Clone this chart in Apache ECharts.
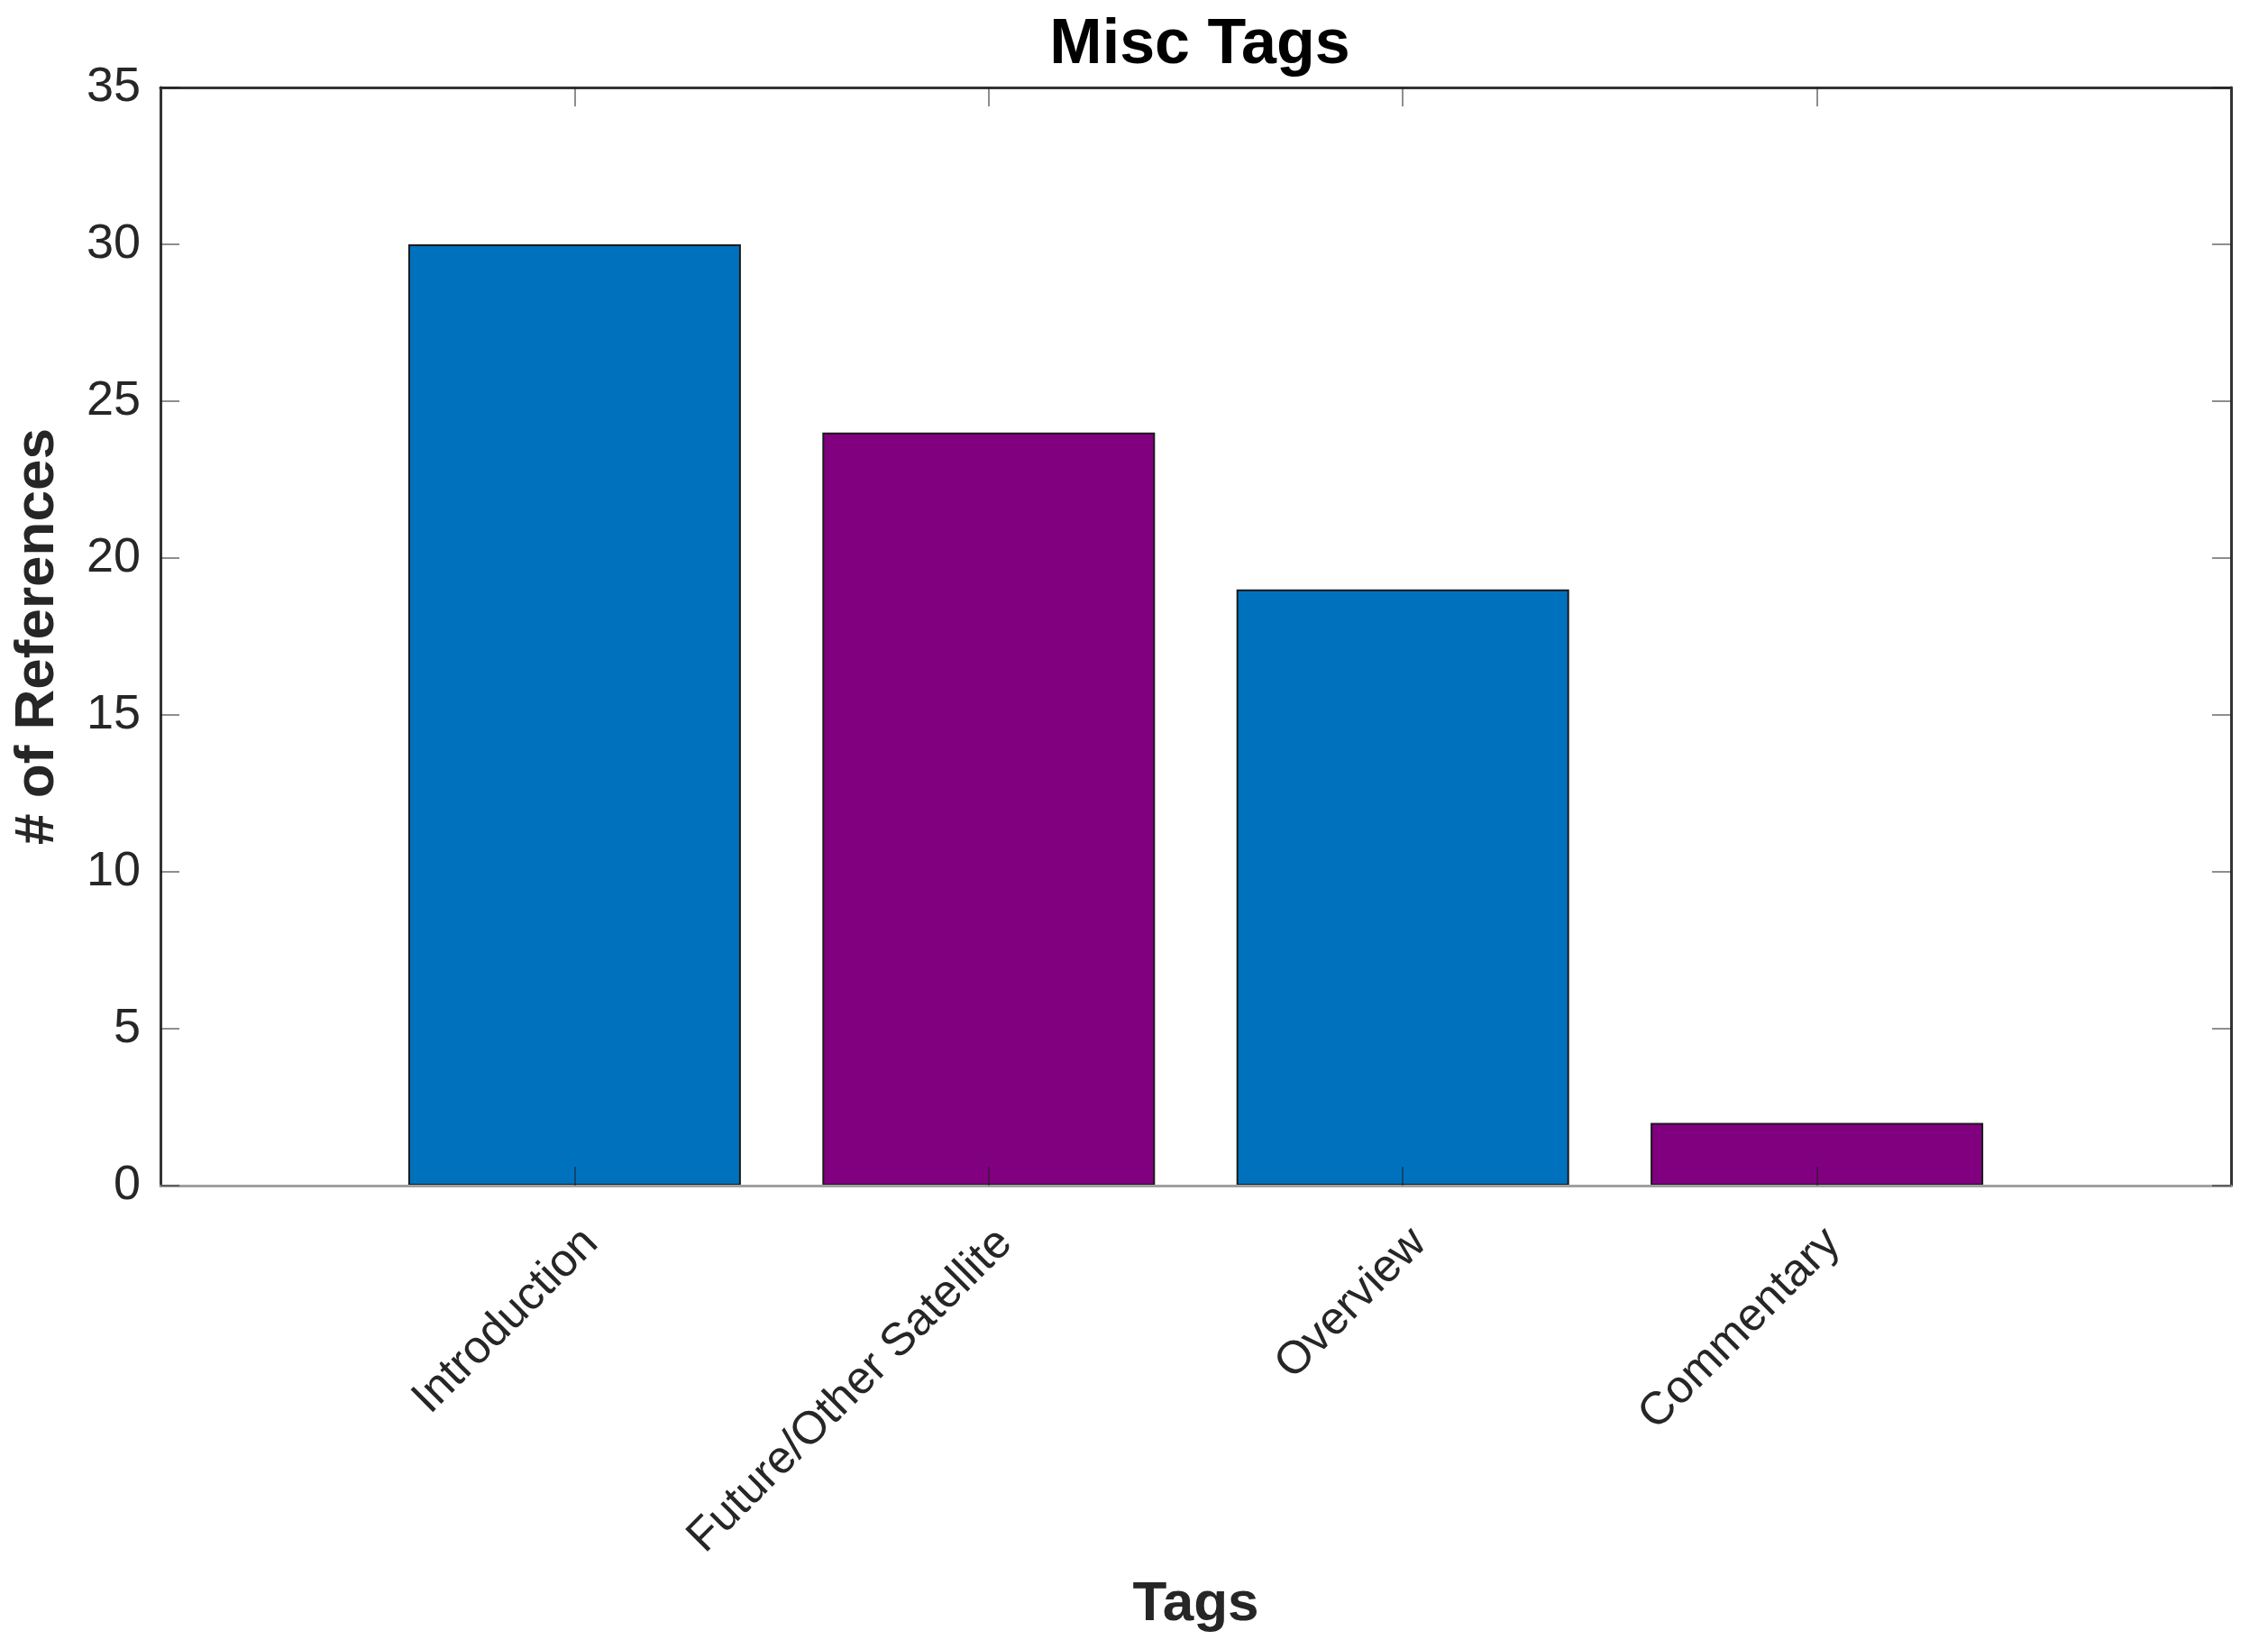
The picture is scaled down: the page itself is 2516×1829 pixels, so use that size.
<!DOCTYPE html>
<html>
<head>
<meta charset="utf-8">
<script src="https://cdn.jsdelivr.net/npm/echarts@6/dist/echarts.min.js"></script>
<style>
html,body{margin:0;padding:0;background:#fff;}
#chart{width:2516px;height:1829px;}
</style>
</head>
<body>
<div id="chart"></div>
<script>
const categories = ['Introduction', 'Future/Other Satellite', 'Overview', 'Commentary'];
const counts = [30, 24, 19, 2];
const barColors = ['#0072BD', '#800080', '#0072BD', '#800080'];
const yTicks = [0, 5, 10, 15, 20, 25, 30, 35];

const positions = categories.map((c, i) => i + 1);
const FONT = '"Liberation Sans", Arial, Helvetica, sans-serif';

const chart = echarts.init(document.getElementById('chart'), null, {renderer: 'canvas'});

const tickStyle = {color: 'rgba(30,30,30,0.5)', width: 2};

chart.setOption({
  backgroundColor: '#ffffff',
  animation: false,
  title: {
    text: 'Misc Tags',
    left: 1326,
    textAlign: 'center',
    top: 11,
    textStyle: {fontFamily: FONT, fontSize: 70, fontWeight: 'bold', color: '#000'}
  },
  grid: {left: 178, right: 41, top: 97, bottom: 514, containLabel: false},
  xAxis: [
    {
      type: 'value', position: 'bottom', min: 0, max: 5, interval: 1, z: 10,
      name: 'Tags', nameLocation: 'middle', nameGap: 434,
      nameTextStyle: {fontFamily: FONT, fontSize: 62, fontWeight: 'bold', color: '#262626'},
      axisLine: {show: true, onZero: false, lineStyle: {color: '#a0a0a0', width: 3}},
      axisTick: {show: true, inside: true, length: 21, customValues: positions, lineStyle: tickStyle},
      axisLabel: {
        show: true, rotate: 45, margin: 38, verticalAlign: 'top',
        customValues: positions,
        fontFamily: FONT, fontSize: 51, color: '#262626',
        formatter: v => categories[Math.round(v) - 1] || ''
      },
      splitLine: {show: false}
    },
    {
      type: 'value', position: 'top', min: 0, max: 5, interval: 1, z: 10,
      axisLine: {show: true, onZero: false, lineStyle: {color: '#333', width: 3}},
      axisTick: {show: true, inside: true, length: 21, customValues: positions, lineStyle: tickStyle},
      axisLabel: {show: false},
      splitLine: {show: false}
    }
  ],
  yAxis: [
    {
      type: 'value', position: 'left', min: 0, max: 35, interval: 5, z: 10,
      name: '# of References', nameLocation: 'middle', nameGap: 105,
      nameTextStyle: {fontFamily: FONT, fontSize: 62, fontWeight: 'bold', color: '#262626'},
      axisLine: {show: true, onZero: false, lineStyle: {color: '#333', width: 3}},
      axisTick: {show: true, inside: true, length: 21, lineStyle: tickStyle},
      axisLabel: {show: true, margin: 22, fontFamily: FONT, fontSize: 54, color: '#262626',
        formatter: v => yTicks.indexOf(v) >= 0 ? String(v) : ''},
      splitLine: {show: false}
    },
    {
      type: 'value', position: 'right', min: 0, max: 35, interval: 5, z: 10,
      axisLine: {show: true, onZero: false, lineStyle: {color: '#333', width: 3}},
      axisTick: {show: true, inside: true, length: 21, lineStyle: tickStyle},
      axisLabel: {show: false},
      splitLine: {show: false}
    }
  ],
  series: [{
    type: 'bar',
    xAxisIndex: 0, yAxisIndex: 0,
    barWidth: 369,
    data: counts.map((v, i) => ({
      value: [positions[i], v],
      itemStyle: {color: barColors[i], borderColor: '#1a1a1a', borderWidth: 2}
    }))
  }]
});
</script>
</body>
</html>
